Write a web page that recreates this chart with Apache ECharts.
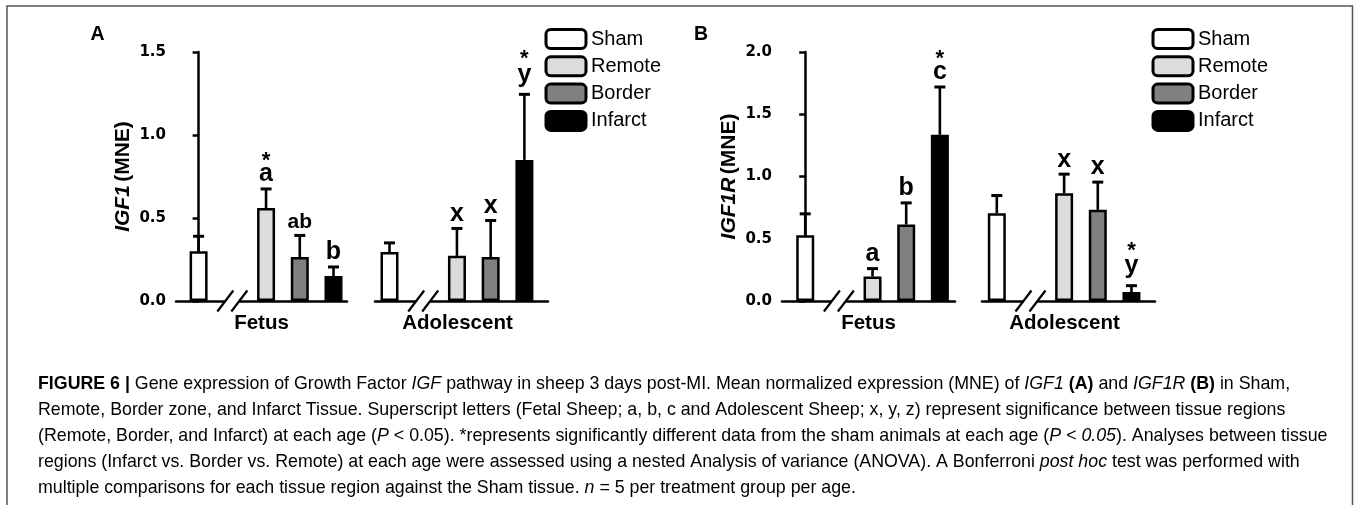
<!DOCTYPE html>
<html><head><meta charset="utf-8">
<script src="https://cdn.jsdelivr.net/npm/echarts@6/dist/echarts.min.js"></script>
<style>html,body{margin:0;padding:0;background:#fff}#c{width:1357px;height:505px}</style>
</head><body><div id="c"></div>
<script>
// ---------- data ----------
const tissues = ['Sham', 'Remote', 'Border', 'Infarct'];
const ages = ['Fetus', 'Adolescent'];

const igf1FetusMean = [0.30, 0.56, 0.265, 0.15];
const igf1FetusSem  = [0.09, 0.115, 0.13, 0.055];
const igf1AdolMean  = [0.295, 0.272, 0.265, 0.85];
const igf1AdolSem   = [0.055, 0.165, 0.22, 0.395];
const igf1FetusLetters = ['', 'a', 'ab', 'b'];
const igf1FetusStars   = [false, true, false, false];
const igf1AdolLetters  = ['', 'x', 'x', 'y'];
const igf1AdolStars    = [false, false, false, true];

const igf1rFetusMean = [0.528, 0.196, 0.614, 1.335];
const igf1rFetusSem  = [0.172, 0.064, 0.174, 0.384];
const igf1rAdolMean  = [0.705, 0.866, 0.732, 0.072];
const igf1rAdolSem   = [0.142, 0.153, 0.223, 0.051];
const igf1rFetusLetters = ['', 'a', 'b', 'c'];
const igf1rFetusStars   = [false, false, false, true];
const igf1rAdolLetters  = ['', 'x', 'x', 'y'];
const igf1rAdolStars    = [false, false, false, true];

const panelLetters = ['A', 'B'];
const panelYMax = [1.5, 2.0];
const panelGene = ['IGF1', 'IGF1R'];

const captionLines = [
  [['b', 'FIGURE 6 | '], ['r', 'Gene expression of Growth Factor '], ['i', 'IGF'], ['r', ' pathway in sheep 3 days post-MI. Mean normalized expression (MNE) of '], ['i', 'IGF1'], ['r', ' '], ['b', '(A)'], ['r', ' and '], ['i', 'IGF1R'], ['r', ' '], ['b', '(B)'], ['r', ' in Sham,']],
  [['r', 'Remote, Border zone, and Infarct Tissue. Superscript letters (Fetal Sheep; a, b, c and Adolescent Sheep; x, y, z) represent significance between tissue regions']],
  [['r', '(Remote, Border, and Infarct) at each age ('], ['i', 'P'], ['r', ' < 0.05). *represents significantly different data from the sham animals at each age ('], ['i', 'P < 0.05'], ['r', '). Analyses between tissue']],
  [['r', 'regions (Infarct vs. Border vs. Remote) at each age were assessed using a nested Analysis of variance (ANOVA). A Bonferroni '], ['i', 'post hoc'], ['r', ' test was performed with']],
  [['r', 'multiple comparisons for each tissue region against the Sham tissue. '], ['i', 'n'], ['r', ' = 5 per treatment group per age.']]
];

// ---------- layout / style ----------
const tissueColors = ['#ffffff', '#dcdcdc', '#808080', '#000000'];
const slotOf = [0, 2, 3, 4];
const breakSlot = 1;
const FONT = 'Liberation Sans';

const gridDefs = [
  { left: 176, width: 171, xMin: -0.67, xMax: 4.4,  panel: 0, age: 0, mean: igf1FetusMean, sem: igf1FetusSem, letters: igf1FetusLetters, stars: igf1FetusStars },
  { left: 375, width: 173, xMin: -0.43, xMax: 4.7,  panel: 0, age: 1, mean: igf1AdolMean,  sem: igf1AdolSem,  letters: igf1AdolLetters,  stars: igf1AdolStars },
  { left: 782, width: 173, xMin: -0.69, xMax: 4.45, panel: 1, age: 0, mean: igf1rFetusMean, sem: igf1rFetusSem, letters: igf1rFetusLetters, stars: igf1rFetusStars },
  { left: 982, width: 173, xMin: -0.44, xMax: 4.7,  panel: 1, age: 1, mean: igf1rAdolMean,  sem: igf1rAdolSem,  letters: igf1rAdolLetters,  stars: igf1rAdolStars }
];

const grid = gridDefs.map(g => ({ left: g.left, width: g.width, top: 52, bottom: 204, containLabel: false }));

const xAxis = gridDefs.map((g, i) => ({
  gridIndex: i, type: 'value', min: g.xMin, max: g.xMax,
  axisLine: { show: true, onZero: false, lineStyle: { color: '#000', width: 2.5 } },
  axisTick: { show: false }, axisLabel: { show: false }, splitLine: { show: false },
  name: ages[g.age], nameLocation: 'middle', nameGap: 12,
  nameTextStyle: { fontFamily: FONT, fontWeight: 'bold', fontSize: 20.5, color: '#000', verticalAlign: 'top', padding: g.age === 1 ? [0, 8, 0, 0] : 0 }
}));

const yAxis = gridDefs.map((g, i) => ({
  gridIndex: i, type: 'value', min: 0, max: panelYMax[g.panel], interval: 0.5,
  show: g.age === 0,
  axisLine: { show: true, lineStyle: { color: '#000', width: 2.5 } },
  axisTick: { show: true, length: 6, lineStyle: { color: '#000', width: 2.5 } },
  axisLabel: { formatter: v => v.toFixed(1), fontFamily: 'DejaVu Sans', fontWeight: 'bold', fontSize: 15, color: '#000', margin: 10 },
  splitLine: { show: false },
  name: '{i|' + panelGene[g.panel] + '} {b|(MNE)}',
  nameLocation: 'middle', nameRotate: 90, nameGap: 42,
  nameTextStyle: {
    rich: {
      i: { fontFamily: FONT, fontWeight: 'bold', fontStyle: 'italic', fontSize: 21, color: '#000' },
      b: { fontFamily: FONT, fontWeight: 'bold', fontSize: 21, color: '#000' }
    }
  }
}));

const series = [];
gridDefs.forEach((g, gi) => {
  tissues.forEach((t, ti) => {
    series.push({
      type: 'bar', name: t, xAxisIndex: gi, yAxisIndex: gi,
      data: [[slotOf[ti], g.mean[ti]]],
      barWidth: 18, barGap: '-100%',
      itemStyle: { color: tissueColors[ti], borderColor: '#000', borderWidth: 2.5 },
      emphasis: { disabled: true }, animation: false, z: 3
    });
  });
  series.push({
    type: 'custom', name: 'err' + gi, xAxisIndex: gi, yAxisIndex: gi, clip: false, z: 2, animation: false,
    data: g.mean.map((m, i) => [slotOf[i], m, g.sem[i]]),
    renderItem: (params, api) => {
      const x = api.value(0), m = api.value(1), s = api.value(2);
      const b = api.coord([x, m]), t = api.coord([x, m + s]);
      const idx = params.dataIndex;
      const ch = [
        { type: 'line', shape: { x1: b[0], y1: b[1], x2: b[0], y2: t[1] }, style: { stroke: '#000', lineWidth: 2.6 } },
        { type: 'line', shape: { x1: b[0] - 5.5, y1: t[1], x2: b[0] + 5.5, y2: t[1] }, style: { stroke: '#000', lineWidth: 3 } }
      ];
      const L = g.letters[idx];
      if (L) {
        const fs = L.length > 1 ? 21 : 25;
        const desc = /[gjpqy]/.test(L);
        const base = t[1] - 6 - (desc ? 5 : 0);
        ch.push({ type: 'text', x: b[0], y: base + 0.16 * fs,
          style: { text: L, fontFamily: FONT, fontWeight: 'bold', fontSize: fs, fill: '#000', align: 'center', verticalAlign: 'bottom' } });
        if (g.stars[idx]) {
          const sb = base - 15 - (desc ? 1.5 : 0);
          ch.push({ type: 'text', x: b[0], y: sb + 0.16 * 22,
            style: { text: '*', fontFamily: FONT, fontWeight: 'bold', fontSize: 22, fill: '#000', align: 'center', verticalAlign: 'bottom' } });
        }
      }
      return { type: 'group', children: ch };
    }
  });
  series.push({
    type: 'custom', name: 'break' + gi, xAxisIndex: gi, yAxisIndex: gi, clip: false, z: 4, animation: false,
    data: [[breakSlot, 0]],
    renderItem: (params, api) => {
      const p = api.coord([api.value(0), api.value(1)]);
      const cx = p[0], cy = p[1];
      return { type: 'group', children: [
        { type: 'rect', shape: { x: cx - 7, y: cy - 3, width: 14, height: 6 }, style: { fill: '#fff' } },
        { type: 'line', shape: { x1: cx - 15, y1: cy + 10.5, x2: cx + 1, y2: cy - 10.5 }, style: { stroke: '#000', lineWidth: 2.2 } },
        { type: 'line', shape: { x1: cx - 1, y1: cy + 10.5, x2: cx + 15, y2: cy - 10.5 }, style: { stroke: '#000', lineWidth: 2.2 } }
      ] };
    }
  });
});

const legendBase = {
  data: tissues, orient: 'vertical', top: 28, icon: 'roundRect',
  itemWidth: 40, itemHeight: 19, itemGap: 5.3, padding: 0, selectedMode: false,
  textStyle: { fontFamily: FONT, fontSize: 20, color: '#000' },
  itemStyle: { borderColor: '#000', borderWidth: 3 }
};
const legend = [Object.assign({}, legendBase, { left: 544.5 }), Object.assign({}, legendBase, { left: 1151.5 })];

const CAP = 17.8;
const capRich = {
  r: { fontFamily: FONT, fontSize: CAP, color: '#231f20' },
  b: { fontFamily: FONT, fontSize: CAP, fontWeight: 'bold', color: '#231f20' },
  i: { fontFamily: FONT, fontSize: CAP, fontStyle: 'italic', color: '#231f20' }
};
const graphic = [
  { type: 'polyline', shape: { points: [[7, 505], [7, 6], [1352.5, 6], [1352.5, 505]] }, style: { stroke: '#555', lineWidth: 1.5, fill: null }, silent: true },
  { type: 'text', x: 97.5, y: 35, style: { text: panelLetters[0], fontFamily: FONT, fontWeight: 'bold', fontSize: 19.5, fill: '#000', align: 'center', verticalAlign: 'middle' } },
  { type: 'text', x: 701, y: 35, style: { text: panelLetters[1], fontFamily: FONT, fontWeight: 'bold', fontSize: 19.5, fill: '#000', align: 'center', verticalAlign: 'middle' } }
];
captionLines.forEach((line, k) => {
  graphic.push({ type: 'text', x: 38, y: 384 + 26 * k, silent: true,
    style: { text: line.map(s => '{' + s[0] + '|' + s[1] + '}').join(''), rich: capRich, align: 'left', verticalAlign: 'middle' } });
});

const chart = echarts.init(document.getElementById('c'), null, { renderer: 'canvas' });
chart.setOption({ animation: false, backgroundColor: '#fff', grid, xAxis, yAxis, series, legend, graphic, tooltip: { show: false } });
</script></body></html>
